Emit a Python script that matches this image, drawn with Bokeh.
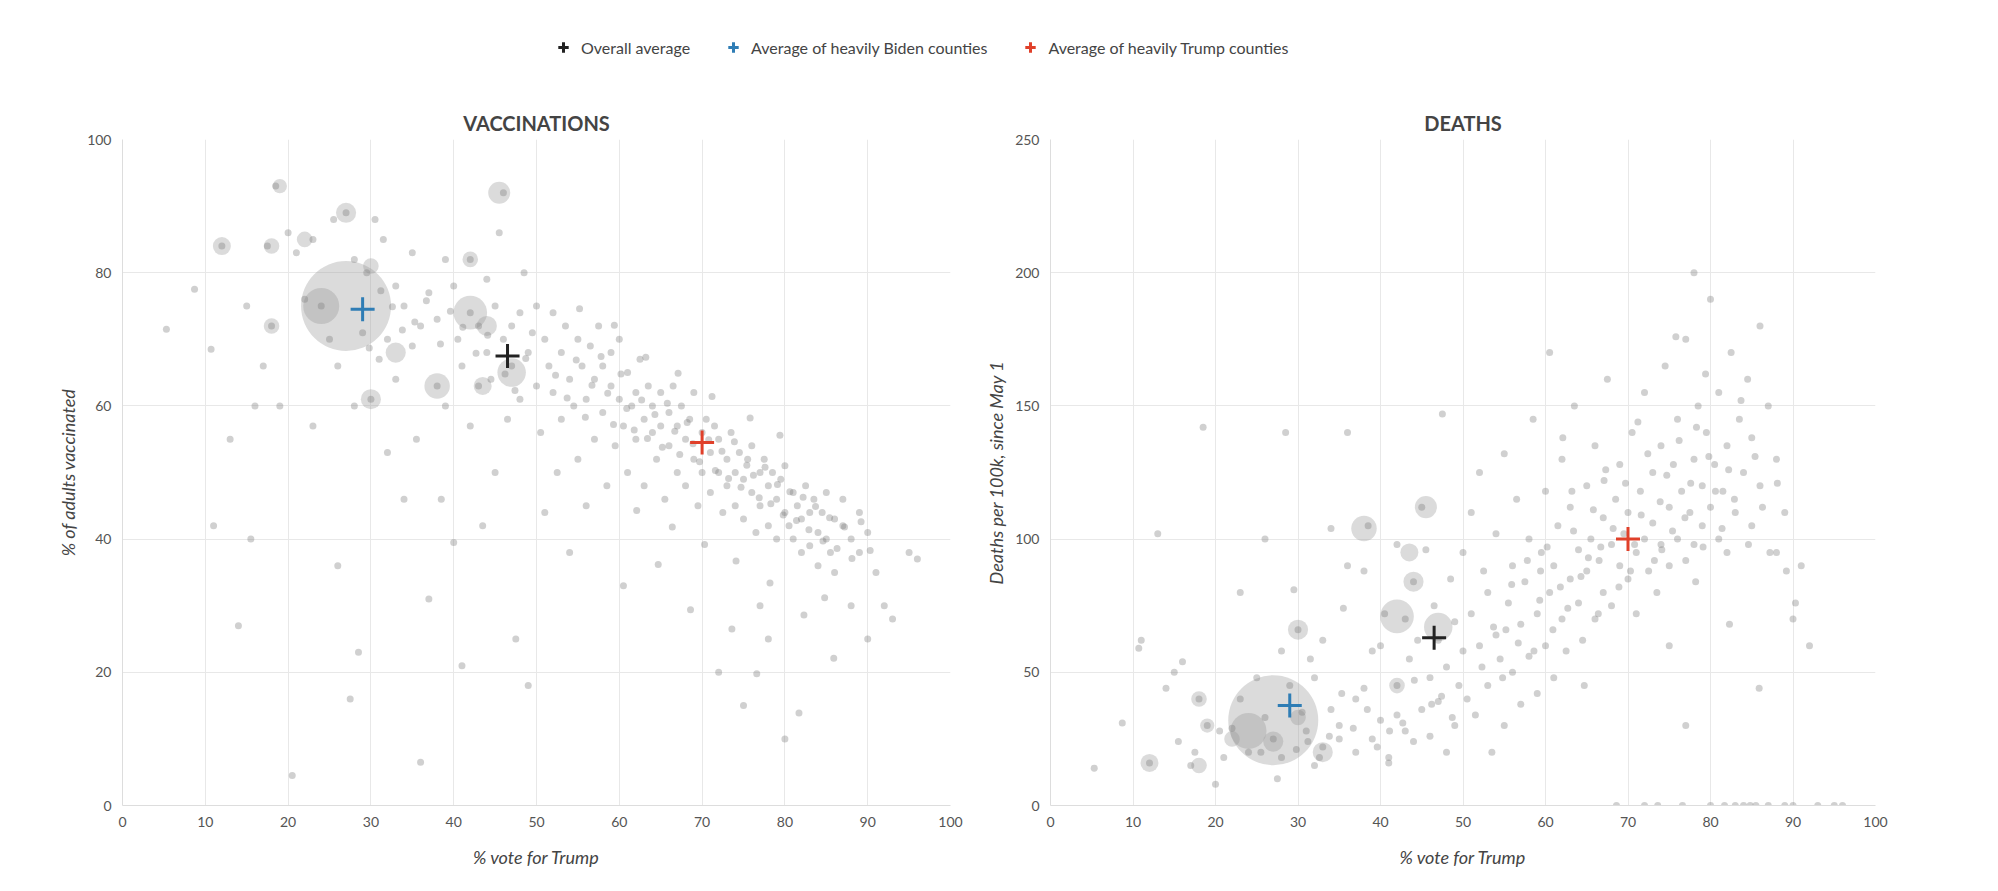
from bokeh.plotting import figure
from bokeh.layouts import column, row
from bokeh.models import Legend, LegendItem, Range1d, FixedTicker
from bokeh.embed import file_html
from bokeh.resources import INLINE
import numpy as np

pts = [
(5.3,71.5,14),(8.7,77.5,31),(10.7,68.5,59),(11,42,62),(12,84,16),(13,55,102),(14,27,44),(15,75,50),(15.5,40,24),(16,60,54),(17,66,15),(17.5,84,20),(18,72,40),(18.5,93,142),(19,60,30),(20,86,8),(20.5,4.5,28),(21,83,18),
(22,76,29),(23,85,40),(23,57,80),(24,75,20),(25,70,48),(25.5,88,20),(26,36,100),(26,66,33),(27,89,25),(27.5,16,10),(28,82,18),(28,60,58),(28.5,23,140),(29,71,45),(29.5,80,81),(30,61,66),(30.5,88,35),(31,67,28),(31.5,85,55),(32,70,15),(32,53,48),(33,78,62),(33,64,22),(34,75,104),(34,46,36),(35,69,25),(35,83,30),(35.5,55,74),(36,72,140),(36,6.5,90),
(37,77,20),(37,31,40),(38,73,44),(38,63,88),(38.5,46,105),(39,82,58),(39,60,25),(40,78,32),(40,39.5,60),(40.5,70,72),(41,66,16),(41,21,18),(42,82,45),(42,74,34),(42,57,98),(43,72,70),(43,63,28),(43.5,42,55),(44,79,24),(44,68,84),(44.5,64,62),(45,75,36),(45,50,112),(45.5,86,96),(46,70,26),(46,92,48),(46.5,58,75),(47,66,62),(47,72,39),(47.5,25,147),(48,74,20),(48,61,52),(48.5,80,85),(49,68,69),(49,18,30),(49.5,71,45),(50,63,95),(50,75,58),
(50.5,56,40),(51,70,110),(51,44,72),(51.5,66,34),(52,62,125),(52,74,60),(52.5,50,88),(53,68,45),(53,58,80),(53.5,72,20),(54,64,102),(54,38,64),(54.5,60,55),(55,70,132),(55,52,30),(55.5,66,76),(56,61,90),(56,45,50),(56.5,69,115),(57,64,38),(57,55,68),(57.5,72,84),(58,59,100),(58,66,56),(58.5,48,145),(59,63,72),(59,68,42),(59.5,54,95),(60,61,60),(60,70,118),(60.5,57,80),(60.5,33,170),
(61,65,90),(61,50,48),(61.5,60,105),(62,62,130),(62,55,70),(62.5,67,58),(63,58,85),(63,48,112),(63.5,63,150),(64,56,76),(64,60,96),(64.5,52,62),(65,62,120),(65,57,88),(65.5,46,100),(66,59,70),(66,54,135),(66.5,63,92),(67,57,108),(67,50,80),(67.5,60,160),(68,55,98),(68,48,75),(68.5,58,115),(69,52,90),(69,62,128),(69.5,45,102),(70,56,85),(70,50,110),(70.5,58,140),
(71,53,95),(71,47,72),(71.5,57,118),(72,50,100),(72,55,155),(72.5,44,88),(73,52,125),(73,48,106),(73.5,56,80),(74,50,135),(74,45,98),(74.5,53,165),(75,49,112),(75,43,90),(75.5,52,128),(76,47,100),(76,54,145),(76.5,41,118),(77,50,92),(77,45,175),(77.5,52,110),(78,48,130),(78,42,98),(78.5,50,150),(79,46,120),(79,40,105),(79.5,49,140),(80,44,112),(80,51,190),(80.5,42,128),
(72,20,0),(75,15,60),(78,25,200),(80,10,0),(77,30,30),
(81,47,100),(81,40,155),(81.5,45,118),(82,43,135),(82,38,95),(82.5,48,170),(83,44,110),(83,39,0),(83.5,46,145),(84,41,125),(84,36,0),(84.5,44,160),(85,40,105),(85,47,138),(85.5,38,0),(86,43,120),(86,35,180),(87,42,150),(87,46,0),(88,40,130),(88,30,95),(89,44,110),(89,38,0),(90,41,70),(90,25,0),(91,35,90),(92,30,60),(93,28,0),(95,38,0),(96,37,0),
(52.3,64.6,52),(53.7,61.2,67),(54.8,66.9,48),(55.9,58.3,83),(56.7,63.1,61),(57.8,67.4,92),(58.6,61.9,58),(59.3,57.2,77),(60.2,64.8,97),(60.9,59.6,66),
(61.8,56.4,82),(62.7,60.9,74),(63.4,55.1,103),(64.3,58.7,86),(65.2,53.8,93),(65.8,60.4,111),(66.7,56.2,97),(67.3,52.7,126),(68.2,57.5,104),(68.9,54.3,82),
(69.7,51.6,121),(70.8,54.9,98),(71.6,50.3,109),(72.4,53.2,132),(73.2,49.1,92),(73.9,54.6,114),(74.7,47.8,124),(75.4,51.1,103),(76.2,49.6,137),(76.9,46.2,108),
(77.6,50.8,121),(78.3,45.3,142),(79.1,48.2,97),(79.8,43.6,131),(80.6,47.1,118),(81.4,42.8,104),(82.2,46.3,126),(82.9,41.4,115),(83.7,44.9,152),(84.6,39.7,98),
(85.4,43.2,131),(86.3,38.6,112),(87.2,41.8,95),(88.1,37.1,121),(89.2,42.6,88),(90.3,38.3,76),(62.1,44.3,138),(66.4,41.8,72),(70.3,39.2,88),(74.1,36.7,96),
(78.2,33.4,84),(82.3,28.6,68),(85.9,22.1,44),(79.4,55.6,162),(75.8,58.2,176),(71.2,61.4,144),(67.1,64.9,122),(63.2,67.3,118),(59.4,72.1,88),(55.2,74.6,66),
(48.7,67.1,33),(47.4,62.3,41),(46.2,64.8,38),(44.1,70.6,47),(42.7,67.9,31),(41.1,71.8,28),(39.6,74.2,22),(38.4,69.3,36),(36.7,75.8,29),(35.3,72.6,42),
(33.8,71.4,26),(32.6,74.9,18),(31.2,77.3,24),(29.8,68.7,21),(64.7,36.2,45),(68.6,29.4,0),(73.6,26.5,0),(76.6,19.8,0),(81.7,13.9,0),(84.8,31.2,0),
]
trump = [p[0] for p in pts]
vax = [p[1] for p in pts]
deaths = [p[2] for p in pts]

# large counties: trump share, vaccinated %, deaths per 100k, population (100k)
big_trump = [27, 24, 45.5, 38, 42, 44, 47, 30, 12, 18, 27, 42, 18, 19, 22, 30, 33, 43.5]
big_vax = [75, 75, 92, 63, 74, 72, 65, 61, 84, 72, 89, 82, 84, 93, 85, 81, 68, 63]
big_deaths = [32, 28, 112, 104, 71, 84, 67, 66, 16, 40, 24, 45, 15, 30, 25, 33, 20, 95]
big_pop = [100, 16, 6, 8, 14, 5, 10, 5, 4, 3, 5, 3, 3, 2.5, 3, 3, 5, 4]

avg_names = ["Overall average", "Average of heavily Biden counties", "Average of heavily Trump counties"]
avg_colors = ["#222222", "#2f7db5", "#e0402a"]
avg_trump = [46.5, 29, 70]
avg_vax = [67.5, 74.5, 54.5]
avg_deaths = [63, 37.5, 100]

big_size = list(9 * np.sqrt(np.array(big_pop)))
FONT = "Lato"

def make(title, yvals, bigy, avgy, ymax, ystep, ylabel, wl, wr, width):
    p = figure(width=width, height=772, output_backend="svg", toolbar_location=None,
               x_range=Range1d(0, 100), y_range=Range1d(0, ymax),
               min_border_left=wl, min_border_right=wr, min_border_top=20, min_border_bottom=70,
               title=title)
    p.title.align = "center"
    p.title.text_font = FONT
    p.title.text_font_size = "20px"
    p.title.text_color = "#444444"
    p.title.text_font_style = "bold"
    p.outline_line_color = None
    p.scatter(big_trump, bigy, size=big_size, fill_color="#999999", fill_alpha=0.35, line_color=None)
    p.scatter(trump, yvals, size=7, fill_color="#777777", fill_alpha=0.35, line_color=None)
    for i in range(3):
        p.scatter([avg_trump[i]], [avgy[i]], marker="cross", size=24, line_width=3, line_color=avg_colors[i])
    p.xaxis.ticker = FixedTicker(ticks=list(range(0, 101, 10)))
    p.yaxis.ticker = FixedTicker(ticks=list(range(0, ymax + 1, ystep)))
    p.xaxis.axis_label = "% vote for Trump"
    p.yaxis.axis_label = ylabel
    for ax in (p.xaxis, p.yaxis):
        ax.axis_label_text_font = FONT
        ax.axis_label_text_font_style = "italic"
        ax.axis_label_text_font_size = "18px"
        ax.axis_label_text_color = "#444444"
        ax.major_label_text_font = FONT
        ax.major_label_text_font_size = "14px"
        ax.major_label_text_color = "#555555"
        ax.major_tick_line_color = None
        ax.minor_tick_line_color = None
        ax.axis_line_color = "#dddddd"
    p.xaxis.axis_label_standoff = 16
    p.grid.grid_line_color = "#e8e8e8"
    return p

p1 = make("VACCINATIONS", vax, big_vax, avg_vax, 100, 20, "% of adults vaccinated", 122, 32, 982)
p2 = make("DEATHS", deaths, big_deaths, avg_deaths, 250, 50, "Deaths per 100k, since May 1", 65, 67, 960)

lg = figure(width=1942, height=103, output_backend="svg", toolbar_location=None,
            x_range=Range1d(0, 1), y_range=Range1d(0, 1))
lg.axis.visible = False
lg.grid.visible = False
lg.outline_line_color = None
items = []
for i in range(3):
    r = lg.scatter([-5], [-5], marker="cross", size=26, line_width=3, line_color=avg_colors[i])
    items.append(LegendItem(label=avg_names[i], renderers=[r]))
leg = Legend(items=items, orientation="horizontal", location=(545, 38),
             label_text_font=FONT, label_text_font_size="16px", label_text_color="#444444",
             border_line_color=None, background_fill_alpha=0, spacing=30, glyph_width=26, glyph_height=26)
lg.add_layout(leg, "center")

layout = column(lg, row(p1, p2))
open("out.html", "w").write(file_html(layout, INLINE))
